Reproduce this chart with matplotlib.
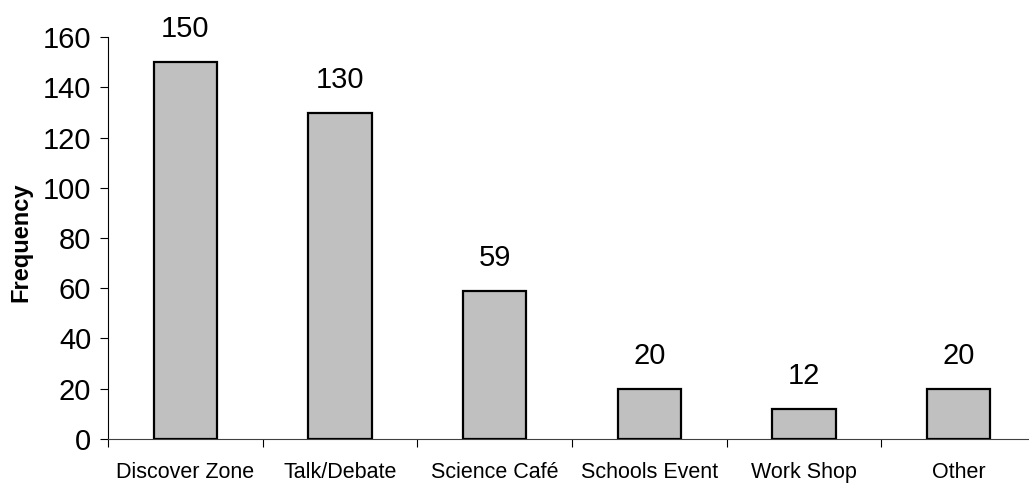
import matplotlib
matplotlib.use("Agg")
import matplotlib.pyplot as plt
import numpy as np

categories = ["Discover Zone", "Talk/Debate", "Science Café",
              "Schools Event", "Work Shop", "Other"]
frequency = [150, 130, 59, 20, 12, 20]
y_ticks = [0, 20, 40, 60, 80, 100, 120, 140, 160]

plt.rcParams["font.family"] = ["Liberation Sans", "DejaVu Sans"]

W, H = 1029, 484
fig = plt.figure(figsize=(W / 100, H / 100), dpi=100)
ax = fig.add_axes([108 / W, (H - 438.7) / H, 928 / W, 401.4 / H])

x = np.arange(len(categories))
bars = ax.bar(x, frequency, width=0.41, color="#C0C0C0",
              edgecolor="black", linewidth=1.6, zorder=3)

for xi, v in zip(x, frequency):
    ax.annotate(f"{v}", (xi, v), xytext=(0, 18), textcoords="offset points",
                ha="center", va="baseline", fontsize=21, color="black")

ax.set_xlim(-0.5, len(categories) - 0.5)
ax.set_ylim(0, 160)
ax.set_yticks(y_ticks)
ax.tick_params(axis="y", labelsize=21, length=6, width=0.8, pad=6)

# category boundaries carry the tick marks; names sit at the centers
ax.set_xticks(np.arange(len(categories) + 1) - 0.5)
ax.set_xticklabels([])
ax.set_xticks(x, minor=True)
ax.set_xticklabels(categories, minor=True, fontsize=15.5)
ax.tick_params(axis="x", which="major", length=6, width=0.8, direction="out")
ax.tick_params(axis="x", which="minor", length=0, pad=16.5)

for side in ("top", "right"):
    ax.spines[side].set_visible(False)
ax.spines["left"].set_linewidth(0.8)
ax.spines["bottom"].set_linewidth(0.8)
ax.spines["bottom"].set_color("#404040")

ax.set_ylabel("Frequency", fontsize=17, fontweight="bold")
ax.yaxis.set_label_coords(-0.081, 0.49)

fig.savefig("out.png", dpi=100)
